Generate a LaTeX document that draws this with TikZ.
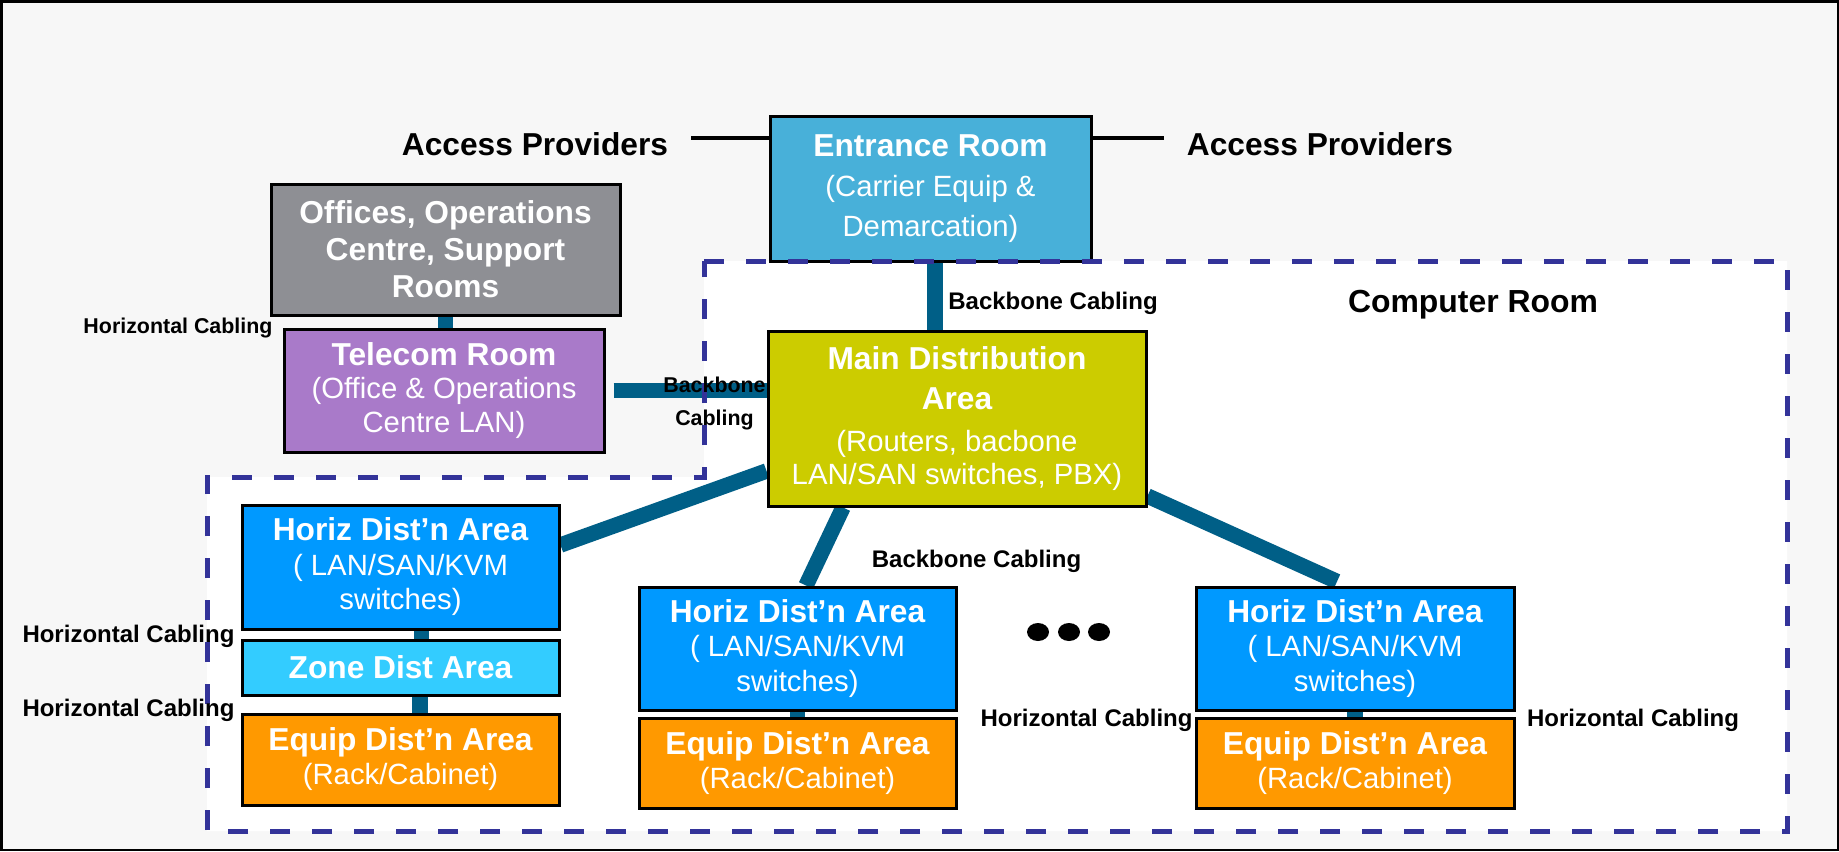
\documentclass[tikz,border=0pt]{standalone}
\usepackage{fontspec}
\setmainfont{Liberation Sans}
\usetikzlibrary{calc}

\definecolor{bgc}{HTML}{F7F7F7}
\definecolor{entc}{HTML}{48B0D9}
\definecolor{offc}{HTML}{8E8F94}
\definecolor{telc}{HTML}{A97AC9}
\definecolor{mdac}{HTML}{CCCC00}
\definecolor{hdac}{HTML}{0099FF}
\definecolor{zonec}{HTML}{33CCFF}
\definecolor{eqc}{HTML}{FF9900}
\definecolor{cablec}{HTML}{005F87}
\definecolor{roomc}{HTML}{333399}

% regular-weight lines inside a box
\newcommand\subtxt[1]{{\mdseries\fontsize{14.65pt}{17pt}\selectfont #1}}

\pgfdeclarelayer{floor}
\pgfdeclarelayer{cabling}
\pgfsetlayers{floor,cabling,main}

\begin{document}
\begin{tikzpicture}[x=0.5pt,y=-0.5pt,
  box/.style={draw=black,line width=1.5pt,text=white,align=center,inner sep=0pt,
    font=\bfseries\fontsize{15.85pt}{17.25pt}\selectfont},
  cable/.style={draw=cablec,line width=7.75pt},
  feed/.style={draw=black,line width=1.6pt},
  room/.style={draw=roomc,line width=2.5pt,dash pattern=on 10pt off 11pt},
  lbl/.style={anchor=base,inner sep=0pt,text=black},
  big/.style={lbl,font=\bfseries\fontsize{15.85pt}{18pt}\selectfont},
  mid/.style={lbl,font=\bfseries\fontsize{12pt}{14pt}\selectfont},
  small/.style={lbl,font=\bfseries\fontsize{10.7pt}{13pt}\selectfont}]

\useasboundingbox (0,0) rectangle (1839,851);

% page and computer room floor
\begin{pgfonlayer}{floor}
\fill[bgc] (0,0) rectangle (1839,851);
\fill[white] (704,261) -- (1787,261) -- (1787,831) -- (207,831) -- (207,477) -- (704,477) -- cycle;
\end{pgfonlayer}
\draw[line width=1.25pt] (1.25,1.25) rectangle (1837.75,849.75);

% rooms and areas
\node[box,fill=entc,minimum width=160.5pt,minimum height=72.5pt,
  font=\bfseries\fontsize{15.85pt}{20pt}\selectfont] (ent) at (930.5,188.5)
  {Entrance Room\\\subtxt{(Carrier Equip \&}\\\subtxt{Demarcation)}};
\node[box,fill=offc,minimum width=174.5pt,minimum height=65.5pt,
  font=\bfseries\fontsize{15.85pt}{18.5pt}\selectfont] (off) at (445.5,249.5)
  {Offices, Operations\\Centre, Support\\Rooms};
\node[box,fill=telc,minimum width=160pt,minimum height=61.5pt,
  font=\bfseries\fontsize{15.85pt}{16.75pt}\selectfont] (tel) at (444,390.5)
  {Telecom Room\\\subtxt{(Office \& Operations}\\\subtxt{Centre LAN)}};
\node[box,fill=mdac,minimum width=189pt,minimum height=87.5pt,
  font=\bfseries\fontsize{15.85pt}{16.5pt}\selectfont] (mda) at (957,418.5)
  {Main Distribution\\[3.5pt]Area\\[4.5pt]\subtxt{(Routers, bacbone}\\\subtxt{LAN/SAN switches, PBX)}};
\node[box,fill=hdac,minimum width=158.5pt,minimum height=62pt] (hda1) at (400.5,567)
  {Horiz Dist’n Area\\\subtxt{( LAN/SAN/KVM}\\\subtxt{switches)}};
\node[box,fill=zonec,minimum width=158.5pt,minimum height=27.5pt] (zone) at (400.5,667.5)
  {Zone Dist Area};
\node[box,fill=eqc,minimum width=158.5pt,minimum height=45.5pt,
  font=\bfseries\fontsize{15.85pt}{17pt}\selectfont] (eq1) at (400.5,759.5)
  {Equip Dist’n Area\\\subtxt{(Rack/Cabinet)}};
\node[box,fill=hdac,minimum width=158.5pt,minimum height=61.5pt] (hda2) at (797.5,648.5)
  {Horiz Dist’n Area\\\subtxt{( LAN/SAN/KVM}\\\subtxt{switches)}};
\node[box,fill=eqc,minimum width=158.5pt,minimum height=45pt,
  font=\bfseries\fontsize{15.85pt}{17pt}\selectfont] (eq2) at (797.5,763)
  {Equip Dist’n Area\\\subtxt{(Rack/Cabinet)}};
\node[box,fill=hdac,minimum width=159pt,minimum height=61.5pt] (hda3) at (1355,648.5)
  {Horiz Dist’n Area\\\subtxt{( LAN/SAN/KVM}\\\subtxt{switches)}};
\node[box,fill=eqc,minimum width=159pt,minimum height=45pt,
  font=\bfseries\fontsize{15.85pt}{17pt}\selectfont] (eq3) at (1355,763)
  {Equip Dist’n Area\\\subtxt{(Rack/Cabinet)}};

% cabling, kept beneath the boxes
\begin{pgfonlayer}{cabling}
\path ($(ent.south)+(4.5,0)$) coordinate (entdrop);
\path ($(tel.east)+(8,0)$) coordinate (telout);
\path ($(hda1.south)+(21,0)$) coordinate (hdadrop);
\path ($(zone.south)+(19.5,0)$) coordinate (zonedrop);
\draw[cable] (entdrop) -- (entdrop |- mda.north);
\draw[cable] (off.south) -- (off.south |- tel.north);
\draw[cable] (telout) -- (telout -| mda.west);
\draw[cable] ($(mda.west)+(0,52.5)$) -- ($(hda1.east)+(0,-22)$);
\draw[cable] ($(mda.south)+(-114,0)$) -- ($(hda2.north)+(8.5,0)$);
\draw[cable] ($(mda.east)+(0,77.5)$) -- ($(hda3.north)+(-18,-4)$);
\draw[cable] (hdadrop) -- (hdadrop |- zone.north);
\draw[cable] (zonedrop) -- (zonedrop |- eq1.north);
\draw[cable] (hda2.south) -- (eq2.north);
\draw[cable] (hda3.south) -- (eq3.north);
\end{pgfonlayer}

% computer room boundary
\draw[room] (704,261) -- (1787,261) -- (1787,831) -- (207,831) -- (207,477) -- (704,477) -- cycle;

% access provider feeds
\node[big] (apl) at (535,155) {Access Providers};
\node[big] (apr) at (1320,155) {Access Providers};
\coordinate (feedl) at (691,138);
\coordinate (feedr) at (1164,138);
\draw[feed] (feedl) -- (feedl -| ent.west);
\draw[feed] (feedr) -- (feedr -| ent.east);

% cabling labels
\node[big,font=\bfseries\fontsize{15.95pt}{18pt}\selectfont] (croom) at (1473,312) {Computer Room};
\node[mid] (bbtop) at (1053,309) {Backbone Cabling};
\node[mid] (bbmid) at (976.5,567) {Backbone Cabling};
\node[small] (hctop) at (178,333) {Horizontal Cabling};
\node[small] (bbtela) at (714.5,392) {Backbone};
\node[small] (bbtelb) at (714.5,425) {Cabling};
\node[mid] (hcl1) at (128.5,642) {Horizontal Cabling};
\node[mid] (hcl2) at (128.5,716) {Horizontal Cabling};
\node[mid] (hcmid) at (1086.5,726) {Horizontal Cabling};
\node[mid] (hcright) at (1633,726) {Horizontal Cabling};

% more horizontal distribution areas
\fill (1038,632) ellipse [x radius=5.5pt, y radius=4.5pt];
\fill (1069,632) ellipse [x radius=5.5pt, y radius=4.5pt];
\fill (1099,632) ellipse [x radius=5.5pt, y radius=4.5pt];
\end{tikzpicture}
\end{document}
